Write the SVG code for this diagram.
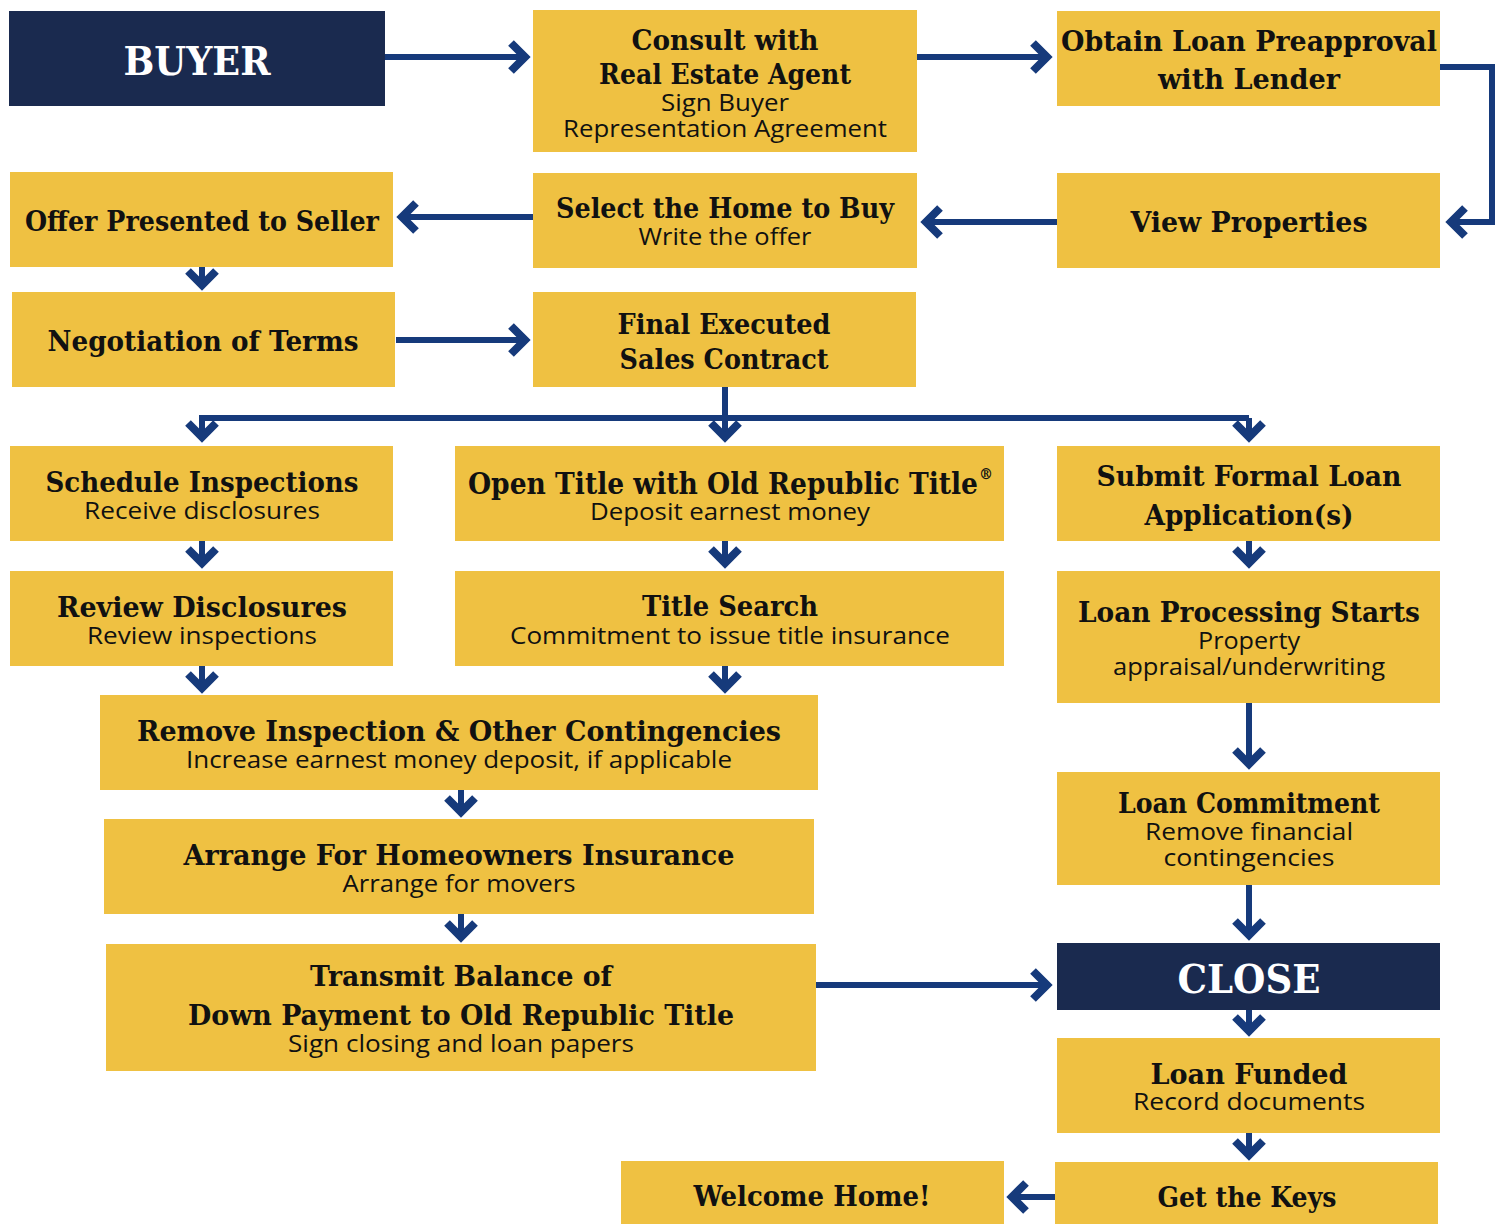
<svg xmlns="http://www.w3.org/2000/svg" xmlns:xlink="http://www.w3.org/1999/xlink" width="1496" height="1224" viewBox="0 0 1496 1224">
<style>
.box{fill:#EFC142}
.dark{fill:#1A2A4F}
.t{font-family:"DejaVu Serif","Liberation Serif",serif;font-weight:bold;font-size:27px;fill:#111;text-anchor:middle;dominant-baseline:central}
.tl{font-size:30px}
.w{fill:#fff;font-size:40px}
.s{font-family:"Open Sans","Noto Sans","Liberation Sans",sans-serif;font-weight:400;font-size:23px;fill:#111;text-anchor:middle;dominant-baseline:central}
.ln{fill:none;stroke:#163A7B;stroke-width:6}
</style>
<defs>
<marker id="ah" markerUnits="userSpaceOnUse" viewBox="-20 -20 30 40" markerWidth="30" markerHeight="40" refX="0" refY="0" orient="auto" overflow="visible">
<path d="M-14,-14 L0,0 L-14,14" fill="none" stroke="#163A7B" stroke-width="8"/>
</marker>
</defs>

<g id="connectors">
<path class="ln" d="M385,57 H525" marker-end="url(#ah)"/>
<path class="ln" d="M917,57 H1047" marker-end="url(#ah)"/>
<path class="ln" d="M1440,67 H1492 V222 H1451" marker-end="url(#ah)"/>
<path class="ln" d="M1057,222 H926" marker-end="url(#ah)"/>
<path class="ln" d="M533,217 H402" marker-end="url(#ah)"/>
<path class="ln" d="M396,340 H525" marker-end="url(#ah)"/>
<path class="ln" d="M725,387 V437" marker-end="url(#ah)"/>
<path class="ln" d="M1249,418 H202 V437" marker-end="url(#ah)"/>
<path class="ln" d="M1249,418 V437" marker-end="url(#ah)"/>
<path class="ln" d="M1249,703 V764" marker-end="url(#ah)"/>
<path class="ln" d="M1249,885 V935" marker-end="url(#ah)"/>
<path class="ln" d="M816,985 H1047" marker-end="url(#ah)"/>
<path class="ln" d="M1055,1197 H1012" marker-end="url(#ah)"/>
<path class="ln" d="M202,266 V285" marker-end="url(#ah)"/>
<path class="ln" d="M202,541 V563" marker-end="url(#ah)"/>
<path class="ln" d="M725,541 V563" marker-end="url(#ah)"/>
<path class="ln" d="M1249,541 V563" marker-end="url(#ah)"/>
<path class="ln" d="M202,666 V688" marker-end="url(#ah)"/>
<path class="ln" d="M725,666 V688" marker-end="url(#ah)"/>
<path class="ln" d="M461,790 V812" marker-end="url(#ah)"/>
<path class="ln" d="M461,914 V937" marker-end="url(#ah)"/>
<path class="ln" d="M1249,1010 V1031" marker-end="url(#ah)"/>
<path class="ln" d="M1249,1133 V1155" marker-end="url(#ah)"/>
</g>

<g id="buyer"><rect class="dark" x="9" y="11" width="376" height="95"/><text class="t w" x="197" y="60" textLength="147" lengthAdjust="spacingAndGlyphs">BUYER</text></g>

<g id="consult"><rect class="box" x="533" y="10" width="384" height="142"/>
<text class="t" x="725" y="40" textLength="187" lengthAdjust="spacingAndGlyphs">Consult with</text>
<text class="t" x="725" y="74" textLength="252" lengthAdjust="spacingAndGlyphs">Real Estate Agent</text>
<text class="s" x="725" y="102" textLength="128" lengthAdjust="spacingAndGlyphs">Sign Buyer</text>
<text class="s" x="725" y="128" textLength="324" lengthAdjust="spacingAndGlyphs">Representation Agreement</text></g>

<g id="preapproval"><rect class="box" x="1057" y="11" width="383" height="95"/>
<text class="t" x="1249" y="41" textLength="376" lengthAdjust="spacingAndGlyphs">Obtain Loan Preapproval</text>
<text class="t" x="1249" y="79" textLength="182" lengthAdjust="spacingAndGlyphs">with Lender</text></g>

<g id="view"><rect class="box" x="1057" y="173" width="383" height="95"/>
<text class="t" x="1249" y="222" textLength="237" lengthAdjust="spacingAndGlyphs">View Properties</text></g>

<g id="select"><rect class="box" x="533" y="173" width="384" height="95"/>
<text class="t" x="725" y="208" textLength="338" lengthAdjust="spacingAndGlyphs">Select the Home to Buy</text>
<text class="s" x="725" y="236" textLength="173" lengthAdjust="spacingAndGlyphs">Write the offer</text></g>

<g id="offer"><rect class="box" x="10" y="172" width="383" height="95"/>
<text class="t" x="202" y="221" textLength="354" lengthAdjust="spacingAndGlyphs">Offer Presented to Seller</text></g>

<g id="negotiation"><rect class="box" x="12" y="292" width="383" height="95"/>
<text class="t" x="203" y="341" textLength="311" lengthAdjust="spacingAndGlyphs">Negotiation of Terms</text></g>

<g id="contract"><rect class="box" x="533" y="292" width="383" height="95"/>
<text class="t" x="724" y="324" textLength="213" lengthAdjust="spacingAndGlyphs">Final Executed</text>
<text class="t" x="724" y="359" textLength="209" lengthAdjust="spacingAndGlyphs">Sales Contract</text></g>

<g id="inspections"><rect class="box" x="10" y="446" width="383" height="95"/>
<text class="t" x="202" y="482" textLength="313" lengthAdjust="spacingAndGlyphs">Schedule Inspections</text>
<text class="s" x="202" y="510" textLength="236" lengthAdjust="spacingAndGlyphs">Receive disclosures</text></g>

<g id="opentitle"><rect class="box" x="455" y="446" width="549" height="95"/>
<text class="t tl" x="723" y="483" textLength="510" lengthAdjust="spacingAndGlyphs">Open Title with Old Republic Title</text>
<text class="t" x="986" y="474" style="font-size:14px">®</text>
<text class="s" x="730" y="511" textLength="280" lengthAdjust="spacingAndGlyphs">Deposit earnest money</text></g>

<g id="loanapp"><rect class="box" x="1057" y="446" width="383" height="95"/>
<text class="t" x="1249" y="476" textLength="305" lengthAdjust="spacingAndGlyphs">Submit Formal Loan</text>
<text class="t" x="1249" y="515" textLength="209" lengthAdjust="spacingAndGlyphs">Application(s)</text></g>

<g id="disclosures"><rect class="box" x="10" y="571" width="383" height="95"/>
<text class="t" x="202" y="607" textLength="290" lengthAdjust="spacingAndGlyphs">Review Disclosures</text>
<text class="s" x="202" y="635" textLength="230" lengthAdjust="spacingAndGlyphs">Review inspections</text></g>

<g id="titlesearch"><rect class="box" x="455" y="571" width="549" height="95"/>
<text class="t" x="730" y="606" textLength="176" lengthAdjust="spacingAndGlyphs">Title Search</text>
<text class="s" x="730" y="635" textLength="440" lengthAdjust="spacingAndGlyphs">Commitment to issue title insurance</text></g>

<g id="processing"><rect class="box" x="1057" y="571" width="383" height="132"/>
<text class="t" x="1249" y="612" textLength="342" lengthAdjust="spacingAndGlyphs">Loan Processing Starts</text>
<text class="s" x="1249" y="640" textLength="102" lengthAdjust="spacingAndGlyphs">Property</text>
<text class="s" x="1249" y="666" textLength="272" lengthAdjust="spacingAndGlyphs">appraisal/underwriting</text></g>

<g id="contingencies"><rect class="box" x="100" y="695" width="718" height="95"/>
<text class="t" x="459" y="731" textLength="644" lengthAdjust="spacingAndGlyphs">Remove Inspection &amp; Other Contingencies</text>
<text class="s" x="459" y="759" textLength="546" lengthAdjust="spacingAndGlyphs">Increase earnest money deposit, if applicable</text></g>

<g id="insurance"><rect class="box" x="104" y="819" width="710" height="95"/>
<text class="t" x="459" y="855" textLength="551" lengthAdjust="spacingAndGlyphs">Arrange For Homeowners Insurance</text>
<text class="s" x="459" y="883" textLength="233" lengthAdjust="spacingAndGlyphs">Arrange for movers</text></g>

<g id="transmit"><rect class="box" x="106" y="944" width="710" height="127"/>
<text class="t" x="461" y="976" textLength="302" lengthAdjust="spacingAndGlyphs">Transmit Balance of</text>
<text class="t" x="461" y="1015" textLength="546" lengthAdjust="spacingAndGlyphs">Down Payment to Old Republic Title</text>
<text class="s" x="461" y="1043" textLength="346" lengthAdjust="spacingAndGlyphs">Sign closing and loan papers</text></g>

<g id="commitment"><rect class="box" x="1057" y="772" width="383" height="113"/>
<text class="t" x="1249" y="803" textLength="262" lengthAdjust="spacingAndGlyphs">Loan Commitment</text>
<text class="s" x="1249" y="831" textLength="208" lengthAdjust="spacingAndGlyphs">Remove financial</text>
<text class="s" x="1249" y="857" textLength="171" lengthAdjust="spacingAndGlyphs">contingencies</text></g>

<g id="close"><rect class="dark" x="1057" y="943" width="383" height="67"/>
<text class="t w" x="1249" y="978" textLength="143" lengthAdjust="spacingAndGlyphs">CLOSE</text></g>

<g id="funded"><rect class="box" x="1057" y="1038" width="383" height="95"/>
<text class="t" x="1249" y="1074" textLength="197" lengthAdjust="spacingAndGlyphs">Loan Funded</text>
<text class="s" x="1249" y="1101" textLength="232" lengthAdjust="spacingAndGlyphs">Record documents</text></g>

<g id="keys"><rect class="box" x="1055" y="1162" width="383" height="62"/>
<text class="t" x="1247" y="1197" textLength="179" lengthAdjust="spacingAndGlyphs">Get the Keys</text></g>

<g id="welcome"><rect class="box" x="621" y="1161" width="383" height="63"/>
<text class="t" x="812" y="1196" textLength="237" lengthAdjust="spacingAndGlyphs">Welcome Home!</text></g>
</svg>
